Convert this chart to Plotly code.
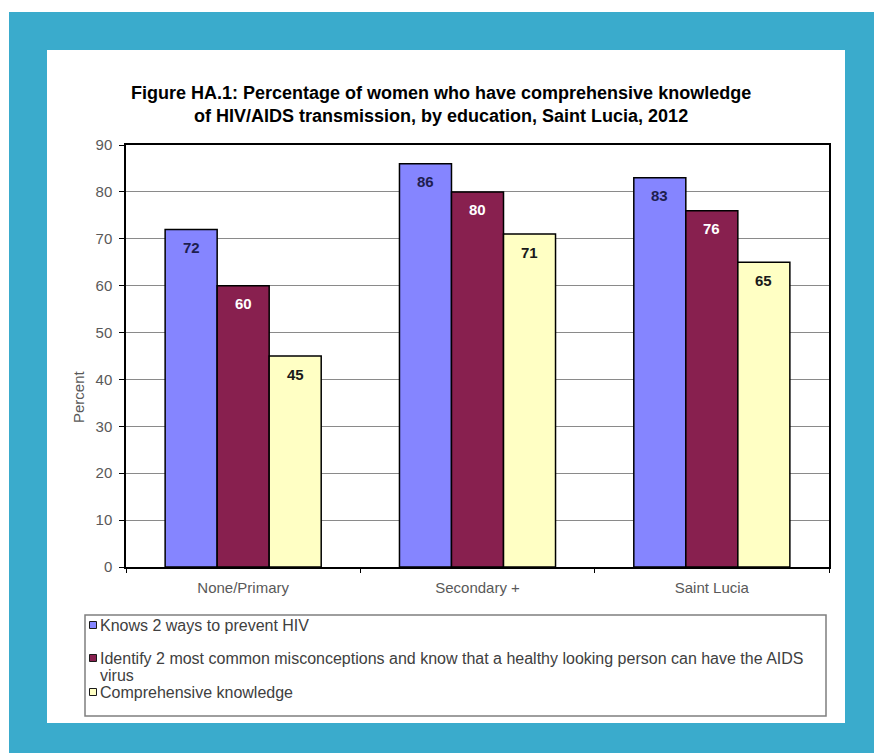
import plotly.graph_objects as go

# Data
categories = ["None/Primary", "Secondary +", "Saint Lucia"]
series_names = [
    "Knows 2 ways to prevent HIV",
    "Identify 2 most common misconceptions and know that a healthy looking person can have the AIDS<br>virus",
    "Comprehensive knowledge",
]
knows_prevent = [72, 86, 83]
misconceptions = [60, 80, 76]
comprehensive = [45, 71, 65]
series_values = [knows_prevent, misconceptions, comprehensive]

# Styling
bar_colors = ["#8585ff", "#88204f", "#ffffc4"]
label_colors = ["#1e1e50", "#ffffff", "#1a1a1a"]
teal = "#3aabcc"
font_family = "Liberation Sans, Arial, sans-serif"

W, H = 874, 753
ML, MR, MT, MB = 126, 45, 145, 186
PW, PH = W - ML - MR, H - MT - MB
BARGAP = 0.334


def px_x(px):
    return (px - ML) / PW


def px_y(py):
    return (H - MB - py) / PH


fig = go.Figure()
for name, vals, color in zip(series_names, series_values, bar_colors):
    fig.add_trace(go.Bar(
        x=categories, y=vals, name=name.replace("<br>", " "),
        marker=dict(color=color, line=dict(color="#000000", width=1.5)),
        showlegend=False, hoverinfo="x+y",
    ))

# Value labels inside the top of each bar
n = len(series_values)
bar_w = (1 - BARGAP) / n
annotations = []
for j, vals in enumerate(series_values):
    for i, v in enumerate(vals):
        annotations.append(dict(
            x=i + (j - (n - 1) / 2) * bar_w, y=v, xref="x", yref="y",
            text=f"<b>{v}</b>", showarrow=False, yanchor="middle", yshift=-18,
            font=dict(family=font_family, size=15, color=label_colors[j]),
        ))

# Title
annotations.append(dict(
    x=px_x(441), y=px_y(104), xref="paper", yref="paper",
    text="<b>Figure HA.1: Percentage of women who have comprehensive knowledge<br>"
         "of HIV/AIDS transmission, by education, Saint Lucia, 2012</b>",
    showarrow=False, xanchor="center", yanchor="middle", align="center",
    font=dict(family=font_family, size=18, color="#000000"),
))

# Y axis title
annotations.append(dict(
    x=px_x(78), y=px_y(397), xref="paper", yref="paper",
    text="Percent", textangle=-90, showarrow=False,
    xanchor="center", yanchor="middle",
    font=dict(family=font_family, size=15, color="#595959"),
))

# Background panel and legend box
shapes = [
    dict(type="rect", xref="paper", yref="paper", layer="below",
         x0=px_x(0), x1=px_x(W), y0=px_y(0), y1=px_y(12),
         fillcolor="#ffffff", line=dict(width=0)),
    dict(type="rect", xref="paper", yref="paper", layer="below",
         x0=px_x(0), x1=px_x(9), y0=px_y(0), y1=px_y(H),
         fillcolor="#ffffff", line=dict(width=0)),
    dict(type="rect", xref="paper", yref="paper", layer="below",
         x0=px_x(47), x1=px_x(845), y0=px_y(50), y1=px_y(723),
         fillcolor="#ffffff", line=dict(width=0)),
    dict(type="rect", xref="paper", yref="paper",
         x0=px_x(85), x1=px_x(826), y0=px_y(615), y1=px_y(716),
         fillcolor="rgba(0,0,0,0)", line=dict(color="#7f7f7f", width=1.5)),
]

# Legend entries: swatch plus label lines
legend_rows = [625, 658, 692]
line_step = 17
for name, color, row in zip(series_names, bar_colors, legend_rows):
    shapes.append(dict(
        type="rect", xref="paper", yref="paper",
        x0=px_x(89.5), x1=px_x(96.5), y0=px_y(row - 3.5), y1=px_y(row + 3.5),
        fillcolor=color, line=dict(color="#1a1a1a", width=1),
    ))
    for k, line in enumerate(name.split("<br>")):
        annotations.append(dict(
            x=px_x(98), y=px_y(row + k * line_step), xref="paper", yref="paper",
            text=line, showarrow=False, xanchor="left", yanchor="middle", align="left",
            font=dict(family=font_family, size=16, color="#404040"),
        ))

fig.update_layout(
    width=W, height=H,
    margin=dict(l=ML, r=MR, t=MT, b=MB, pad=0),
    paper_bgcolor=teal, plot_bgcolor="#ffffff",
    barmode="group", bargap=BARGAP, bargroupgap=0,
    annotations=annotations, shapes=shapes,
    font=dict(family=font_family, size=15, color="#595959"),
    xaxis=dict(
        showline=True, linecolor="#000000", linewidth=1.5, mirror=True,
        ticks="outside", tickson="boundaries", ticklen=4, tickcolor="#000000",
        tickfont=dict(size=15, color="#595959"), showgrid=False,
        ticklabelstandoff=6,
    ),
    yaxis=dict(
        range=[0, 90], dtick=10, showgrid=True, gridcolor="#8a8a8a", gridwidth=1,
        showline=True, linecolor="#000000", linewidth=1.5, mirror=True,
        ticks="outside", ticklen=5, tickcolor="#000000", zeroline=False,
        tickfont=dict(size=15, color="#595959"), ticklabelstandoff=4,
    ),
)

fig.write_html("out.html")
